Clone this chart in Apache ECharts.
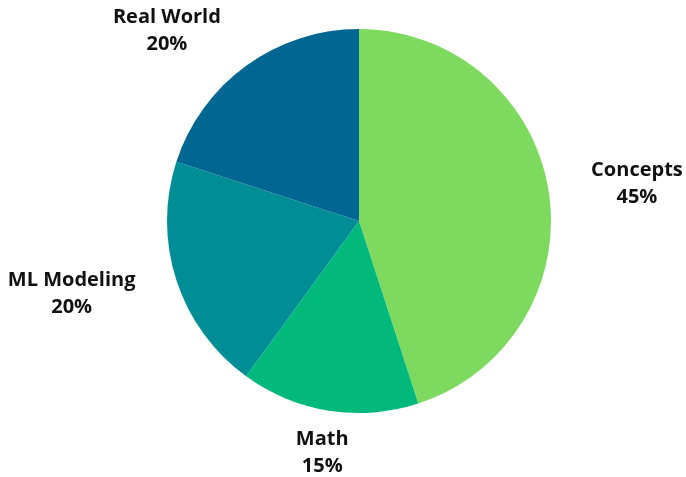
<!DOCTYPE html>
<html>
<head>
<meta charset="utf-8">
<script src="https://cdn.jsdelivr.net/npm/echarts@6/dist/echarts.min.js"></script>
<style>
  html, body { margin: 0; padding: 0; background: #fff; }
  #chart { width: 686px; height: 477px; }
</style>
</head>
<body>
<div id="chart"></div>
<script>
    var names = ['Concepts', 'Math', 'ML Modeling', 'Real World'];
    var values = [45, 15, 20, 20];
    var colors = ['#7ED95F', '#00B97B', '#008E96', '#006792'];

    var pieData = [];
    for (var i = 0; i < names.length; i++) {
        pieData.push({ name: names[i], value: values[i], itemStyle: { color: colors[i] } });
    };

    var cx = 359, cy = 221, r = 192;

    var chart = echarts.init(document.getElementById('chart'));
    var option = {
        animation: false,
        series: [{
            type: 'pie',
            center: [cx, cy],
            radius: r,
            startAngle: 90,
            clockwise: true,
            avoidLabelOverlap: false,
            data: pieData,
            label: {
                position: 'outside',
                formatter: '{b}\n{c}%',
                fontFamily: 'Open Sans',
                fontWeight: 'bold',
                fontSize: 20,
                lineHeight: 27,
                color: '#111',
                overflow: 'none'
            },
            labelLine: {
                show: false,
                length: 43,
                length2: 0
            },
            // center both lines of every label, drop the 5px side gap
            labelLayout: function (p) {
                var rc = p.labelRect;
                var anchorX = p.align == 'left' ? rc.x : rc.x + rc.width;
                var x = Math.abs(anchorX - cx) < r * 0.3 ? anchorX : rc.x + rc.width / 2;
                x += anchorX < cx ? 5 : -5;
                return { x: x, y: rc.y + rc.height / 2, align: 'center', verticalAlign: 'middle' };
            }
        }]
    };
    chart.setOption(option);
</script>
</body>
</html>
